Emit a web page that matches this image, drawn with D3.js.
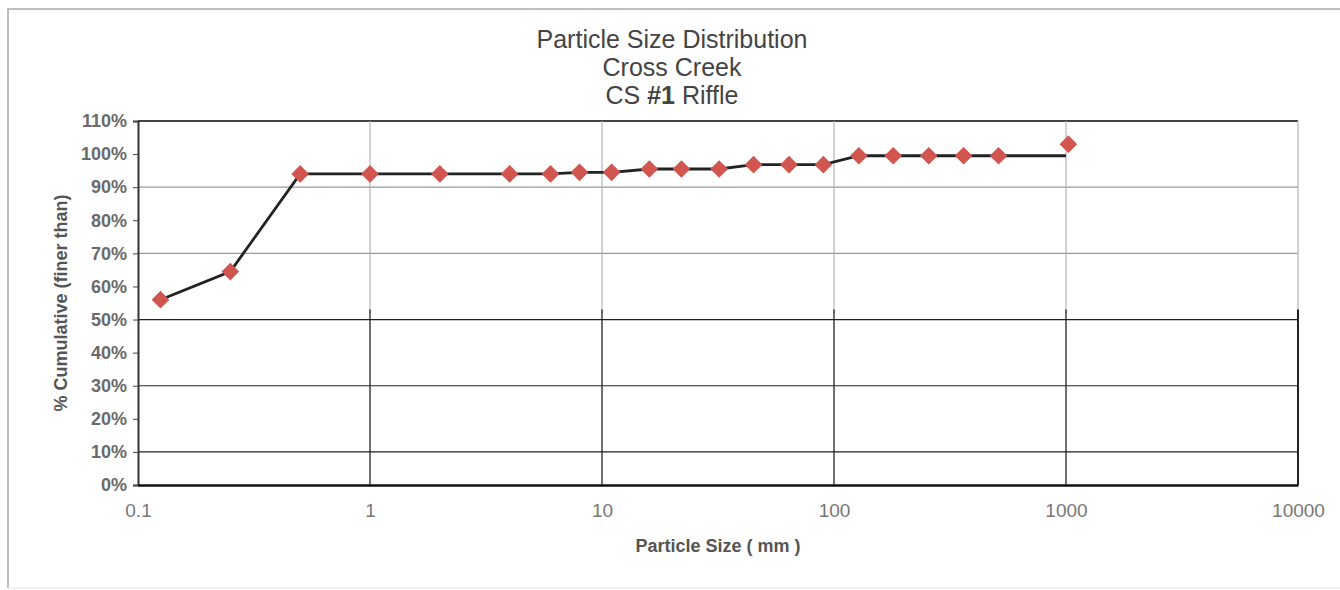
<!DOCTYPE html>
<style type="text/css">
body { margin: 0; background: #fff; }
svg { font-family: Arial, "Liberation Sans", sans-serif; }
</style>
<svg width="1340" height="590"></svg>
<script src="https://d3js.org/d3.v7.min.js"></script>
<script>

// sieve sizes (mm) and cumulative % finer
var sizes    = [0.125, 0.25, 0.5, 1, 2, 4, 6, 8, 11, 16, 22, 32, 45, 64, 90, 128, 180, 256, 362, 512, 1024];
var pctFiner = [56, 64.5, 94, 94, 94, 94, 94, 94.5, 94.5, 95.5, 95.5, 95.5, 96.8, 96.8, 96.8, 99.5, 99.5, 99.5, 99.5, 99.5, 103];
// the line stops short of the last marker
var lineEnd = [1000, 99.5];

var xTicks = [0.1, 1, 10, 100, 1000, 10000];
var yTicks = [0, 10, 20, 30, 40, 50, 60, 70, 80, 90, 100, 110];
var yGrid  = [10, 30, 50, 70, 90, 110];

var svg = d3.select("svg");
var m = { left: 138, right: 1298, top: 121, bottom: 485 };

var x = d3.scaleLog().domain([0.1, 10000]).range([m.left, m.right]);
var y = d3.scaleLinear().domain([0, 110]).range([m.bottom, m.top]);

// outer frame (faded)
svg.append("path")
		.attr("d", "M8,588 L8,9 L1340,9")
		.attr("fill", "none")
		.attr("stroke", "#aaa")
		.attr("stroke-width", 1.5);
svg.append("line")
		.attr("x1", 8).attr("x2", 1340).attr("y1", 588).attr("y2", 588)
		.attr("stroke", "#e4e4e4");

// horizontal gridlines
svg.append("g").selectAll("line")
	.data(yGrid)
	.enter().append("line")
		.attr("x1", m.left).attr("x2", m.right)
		.attr("y1", function(d) { return y(d); })
		.attr("y2", function(d) { return y(d); })
		.attr("stroke", function(d) { return d >= 70 && d < 110 ? "#999" : (d == 110 ? "#444" : "#222"); })
		.attr("stroke-width", function(d) { return d == 110 ? 2 : 1.2; });

// vertical gridlines: faded above 50 %, dark below
var vg = svg.append("g");
vg.selectAll("line.up")
	.data(xTicks.slice(1))
	.enter().append("line")
		.attr("class", "up")
		.attr("x1", function(d) { return x(d); }).attr("x2", function(d) { return x(d); })
		.attr("y1", y(110)).attr("y2", y(52))
		.attr("stroke", "#b4b4b4")
		.attr("stroke-width", 1.2);
vg.selectAll("line.down")
	.data(xTicks.slice(1))
	.enter().append("line")
		.attr("class", "down")
		.attr("x1", function(d) { return x(d); }).attr("x2", function(d) { return x(d); })
		.attr("y1", y(53)).attr("y2", y(0))
		.attr("stroke", "#222")
		.attr("stroke-width", function(d) { return d == 10000 ? 2 : 1.3; });

// axes
var yAxis = d3.axisLeft(y)
		.tickValues(yTicks)
		.tickSize(5)
		.tickFormat(function(d) { return d + "%"; });
var gy = svg.append("g")
		.attr("transform", "translate(" + m.left + ",0)")
		.call(yAxis);
gy.select(".domain").attr("stroke", "#333").attr("stroke-width", 2);
gy.selectAll(".tick line").attr("stroke", "#444");
gy.selectAll(".tick text")
		.attr("x", -11)
		.attr("fill", "#6a6a6a")
		.attr("font-size", 18)
		.attr("font-weight", "bold");

var xAxis = d3.axisBottom(x)
		.tickValues(xTicks)
		.tickSize(0)
		.tickFormat(function(d) { return String(d); });
var gx = svg.append("g")
		.attr("transform", "translate(0," + m.bottom + ")")
		.call(xAxis);
gx.select(".domain").attr("stroke", "#111").attr("stroke-width", 2.5);
gx.selectAll(".tick text")
		.attr("y", 19)
		.attr("fill", "#777")
		.attr("font-size", 19);

// data line
var linePts = sizes.slice(0, sizes.length - 1).map(function(s, i) { return [s, pctFiner[i]]; });
linePts.push(lineEnd);

svg.append("path")
		.datum(linePts)
		.attr("fill", "none")
		.attr("stroke", "#222")
		.attr("stroke-width", 2.8)
		.attr("d", d3.line()
			.x(function(d) { return x(d[0]); })
			.y(function(d) { return y(d[1]); }));

// diamond markers
svg.append("g").selectAll("path")
	.data(sizes)
	.enter().append("path")
		.attr("transform", function(d, i) { return "translate(" + x(d) + "," + y(pctFiner[i]) + ") rotate(45)"; })
		.attr("d", "M-5.5,-5.5 L5.5,-5.5 L5.5,5.5 L-5.5,5.5 Z")
		.attr("fill", "#d2554f")
		.attr("stroke", "#d2554f")
		.attr("stroke-width", 1.5);

// titles
var title = svg.append("text")
		.attr("text-anchor", "middle")
		.attr("fill", "#444")
		.attr("font-size", 25);
title.append("tspan").attr("x", 672).attr("y", 48).text("Particle Size Distribution");
title.append("tspan").attr("x", 672).attr("y", 76).text("Cross Creek");
var t3 = title.append("tspan").attr("x", 672).attr("y", 104);
t3.append("tspan").text("CS ");
t3.append("tspan").attr("font-weight", "bold").text("#1");
t3.append("tspan").text(" Riffle");

svg.append("text")
		.attr("x", 718).attr("y", 552)
		.attr("text-anchor", "middle")
		.attr("fill", "#555")
		.attr("font-size", 18)
		.attr("font-weight", "bold")
		.text("Particle Size ( mm )");

svg.append("text")
		.attr("transform", "translate(67,303) rotate(-90)")
		.attr("text-anchor", "middle")
		.attr("fill", "#555")
		.attr("font-size", 18)
		.attr("font-weight", "bold")
		.text("% Cumulative (finer than)");

</script>
